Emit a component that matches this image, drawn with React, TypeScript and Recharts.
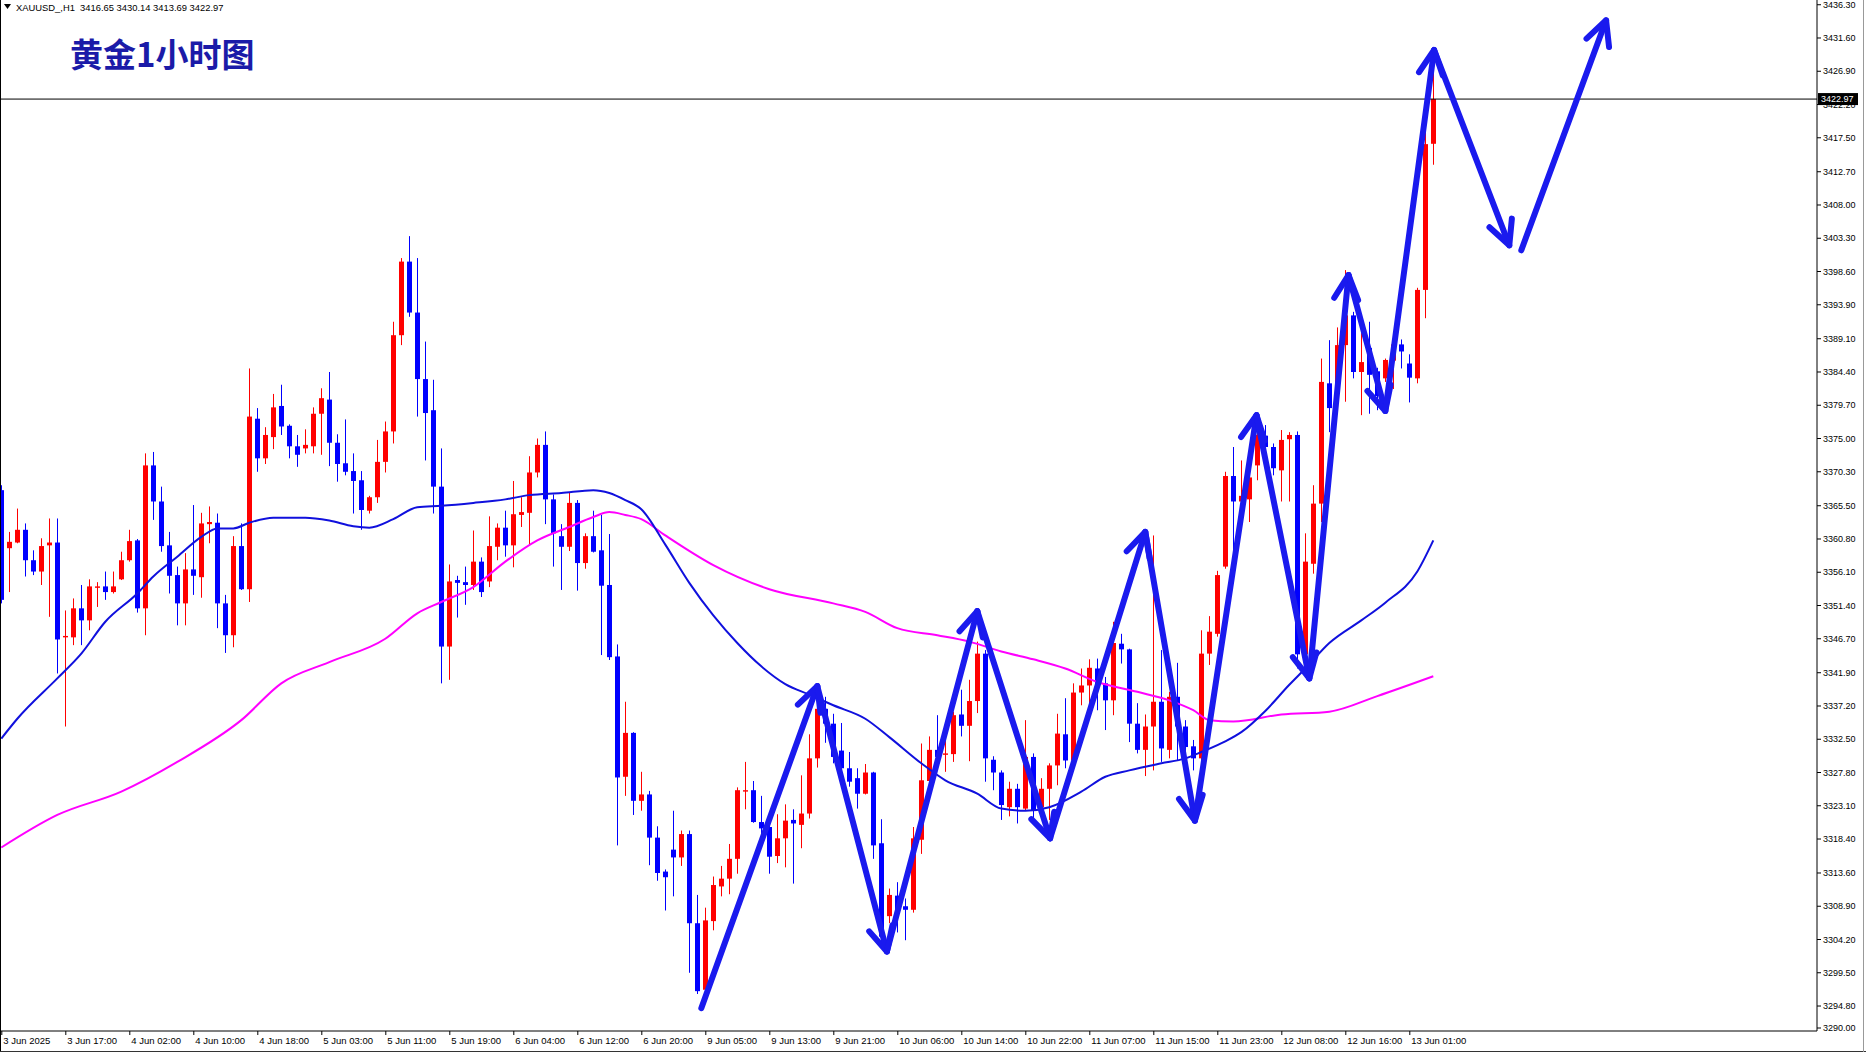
import { Bar, ComposedChart, Line, ReferenceLine, XAxis, YAxis } from "recharts";

const W = 1866;
const H = 1055;
const AXIS_W = 49;
const AXIS_H = 24;
const PLOT_BOTTOM = H - AXIS_H;

// bar index domain: 8px per hourly bar, last bars leave room on the right
const X_MIN = -0.1625;
const X_MAX = 226.9625;
const Y_MIN = 3291.27;
const Y_MAX = 3436.97;

const opens = [
  3367.7, 3359.5, 3360.3, 3362.1, 3357.8, 3356.2, 3359.9, 3360.3, 3346.9, 3346.9,
  3351.0, 3349.3, 3353.9, 3354.1, 3353.3, 3355.1, 3357.8, 3360.6, 3351.0, 3371.2,
  3366.1, 3359.9, 3355.7, 3351.7, 3356.5, 3355.4, 3362.9, 3363.1, 3351.7, 3347.2,
  3359.8, 3353.7, 3377.8, 3372.2, 3375.2, 3379.6, 3376.8, 3373.9, 3373.6, 3373.9,
  3378.5, 3380.5, 3374.4, 3371.5, 3370.4, 3369.1, 3364.8, 3366.7, 3371.7, 3376.0,
  3389.6, 3400.0, 3392.8, 3383.4, 3379.0, 3368.2, 3345.6, 3355.0, 3354.7, 3354.3,
  3357.6, 3354.8, 3359.7, 3362.4, 3359.9, 3364.2, 3364.5, 3370.2, 3374.1, 3366.4,
  3361.2, 3359.7, 3365.9, 3357.4, 3361.2, 3359.2, 3354.3, 3344.2, 3327.2, 3333.4,
  3323.8, 3324.7, 3318.6, 3313.8, 3316.9, 3315.8, 3319.1, 3306.5, 3297.1, 3306.8,
  3311.7, 3312.8, 3315.6, 3325.1, 3325.3, 3320.8, 3320.1, 3316.0, 3318.5, 3321.1,
  3320.4, 3322.0, 3329.8, 3336.8, 3334.7, 3330.9, 3328.4, 3327.0, 3324.8, 3327.8,
  3317.8, 3307.5, 3310.4, 3308.9, 3308.4, 3318.3, 3326.6, 3331.0, 3330.3, 3330.4,
  3336.0, 3334.4, 3337.9, 3344.6, 3329.6, 3327.8, 3322.9, 3325.5, 3322.7, 3330.0,
  3322.9, 3325.5, 3328.8, 3333.2, 3329.5, 3339.1, 3340.1, 3342.5, 3340.4, 3338.0,
  3346.0, 3345.2, 3334.7, 3331.0, 3334.3, 3337.8, 3331.0, 3338.5, 3334.3, 3331.5,
  3329.8, 3344.6, 3347.4, 3356.9, 3369.7, 3366.1, 3366.4, 3371.2, 3375.4, 3373.8,
  3370.5, 3374.9, 3375.5, 3344.5, 3357.3, 3365.8, 3382.8, 3382.8, 3388.2, 3392.4,
  3384.4, 3387.8, 3384.5, 3383.5, 3386.0, 3388.3, 3385.6, 3383.5, 3396.0, 3416.65,
];

const highs = [
  3368.4, 3361.8, 3365.1, 3363.0, 3359.2, 3360.9, 3363.7, 3363.7, 3350.7, 3352.4,
  3354.3, 3355.1, 3354.7, 3356.2, 3356.2, 3359.0, 3362.1, 3360.8, 3372.9, 3373.1,
  3368.2, 3361.8, 3356.9, 3358.8, 3365.6, 3364.5, 3365.4, 3364.4, 3352.9, 3361.2,
  3363.0, 3384.9, 3379.3, 3376.6, 3381.3, 3382.6, 3377.0, 3375.5, 3376.3, 3379.4,
  3382.1, 3384.4, 3375.6, 3377.7, 3372.9, 3370.4, 3366.9, 3374.8, 3377.4, 3391.5,
  3400.5, 3403.6, 3400.5, 3388.7, 3383.3, 3373.6, 3357.2, 3355.6, 3356.9, 3362.0,
  3358.2, 3364.0, 3363.0, 3364.8, 3369.0, 3366.7, 3372.5, 3375.0, 3376.0, 3367.1,
  3362.9, 3367.3, 3366.3, 3361.6, 3364.8, 3364.2, 3361.5, 3345.9, 3337.8, 3333.5,
  3327.9, 3325.2, 3320.2, 3314.1, 3322.4, 3319.6, 3319.6, 3310.5, 3308.7, 3313.1,
  3314.6, 3317.7, 3325.7, 3329.3, 3326.6, 3324.5, 3320.8, 3321.9, 3323.3, 3322.6,
  3327.4, 3333.2, 3337.6, 3338.5, 3336.1, 3334.8, 3330.7, 3328.4, 3329.0, 3327.9,
  3321.2, 3311.4, 3312.3, 3310.0, 3320.1, 3331.9, 3332.9, 3335.9, 3332.8, 3336.4,
  3339.5, 3340.9, 3346.3, 3345.1, 3330.1, 3328.1, 3326.5, 3326.2, 3335.2, 3330.5,
  3327.0, 3329.1, 3336.1, 3338.3, 3340.4, 3342.5, 3343.8, 3343.9, 3341.3, 3349.1,
  3347.4, 3345.3, 3337.6, 3336.0, 3361.3, 3345.1, 3339.2, 3343.3, 3335.2, 3332.4,
  3347.9, 3349.9, 3356.3, 3370.3, 3373.8, 3371.9, 3371.9, 3375.9, 3376.9, 3374.3,
  3376.2, 3375.9, 3376.0, 3361.6, 3368.4, 3386.3, 3388.9, 3390.7, 3398.8, 3392.9,
  3389.9, 3391.5, 3385.0, 3386.3, 3389.0, 3389.0, 3386.9, 3396.3, 3420.5, 3430.14,
];

const lows = [
  3351.7, 3353.3, 3360.2, 3355.5, 3355.7, 3354.3, 3349.8, 3341.8, 3334.3, 3345.8,
  3345.8, 3347.9, 3351.2, 3352.2, 3353.1, 3355.0, 3357.6, 3350.4, 3347.2, 3363.5,
  3359.0, 3353.1, 3348.6, 3348.6, 3352.9, 3352.5, 3360.2, 3348.2, 3344.7, 3345.5,
  3353.6, 3351.9, 3370.3, 3371.4, 3373.5, 3375.5, 3372.2, 3371.0, 3372.9, 3372.9,
  3372.7, 3371.1, 3368.9, 3369.8, 3364.4, 3362.1, 3364.4, 3365.9, 3370.2, 3374.3,
  3388.2, 3392.2, 3378.1, 3371.9, 3364.4, 3340.4, 3340.9, 3349.7, 3351.5, 3353.6,
  3352.6, 3354.0, 3357.8, 3358.3, 3356.8, 3362.5, 3359.9, 3369.5, 3362.9, 3356.9,
  3353.6, 3359.1, 3353.5, 3356.6, 3358.9, 3344.4, 3343.7, 3317.5, 3324.5, 3321.8,
  3322.4, 3314.7, 3312.5, 3308.3, 3310.3, 3314.6, 3299.5, 3296.5, 3297.0, 3305.5,
  3310.3, 3310.6, 3313.5, 3322.6, 3320.7, 3319.1, 3313.5, 3315.0, 3314.4, 3312.1,
  3317.1, 3321.3, 3328.5, 3332.0, 3329.1, 3327.0, 3325.8, 3322.7, 3324.7, 3315.6,
  3303.9, 3306.5, 3305.2, 3304.1, 3308.0, 3316.3, 3326.5, 3328.3, 3327.9, 3329.3,
  3332.9, 3329.4, 3336.2, 3326.5, 3325.3, 3321.1, 3321.6, 3320.6, 3322.5, 3321.0,
  3321.3, 3321.1, 3326.0, 3328.4, 3328.4, 3337.3, 3337.6, 3336.6, 3333.8, 3335.9,
  3343.2, 3332.1, 3330.5, 3327.3, 3328.1, 3329.3, 3329.8, 3329.5, 3330.0, 3328.1,
  3325.8, 3343.0, 3347.0, 3356.6, 3358.8, 3363.2, 3363.2, 3369.1, 3371.5, 3369.8,
  3366.1, 3366.1, 3342.5, 3341.5, 3355.9, 3363.2, 3375.9, 3380.0, 3380.2, 3383.5,
  3378.3, 3378.5, 3379.0, 3383.0, 3382.0, 3384.9, 3380.1, 3382.8, 3392.0, 3413.69,
];

const closes = [
  3352.2, 3360.4, 3362.1, 3357.8, 3356.2, 3359.8, 3360.3, 3346.6, 3347.1, 3351.0,
  3349.3, 3354.1, 3354.1, 3353.3, 3354.1, 3357.8, 3360.5, 3351.0, 3371.2, 3366.1,
  3359.8, 3355.6, 3351.7, 3356.5, 3355.6, 3363.0, 3363.2, 3351.7, 3347.2, 3359.8,
  3353.7, 3378.1, 3372.2, 3375.5, 3379.4, 3376.7, 3373.9, 3372.7, 3374.1, 3378.5,
  3380.7, 3374.4, 3371.4, 3370.3, 3369.0, 3364.9, 3366.7, 3371.7, 3376.0, 3389.6,
  3400.0, 3392.8, 3383.4, 3378.6, 3368.2, 3345.6, 3354.8, 3354.6, 3354.3, 3357.6,
  3353.3, 3359.8, 3362.4, 3359.9, 3364.3, 3364.6, 3370.2, 3374.1, 3366.4, 3361.6,
  3359.7, 3365.9, 3357.4, 3361.2, 3359.0, 3354.2, 3344.1, 3327.1, 3333.4, 3323.8,
  3324.7, 3318.6, 3313.6, 3313.0, 3315.8, 3319.1, 3306.5, 3296.9, 3306.9, 3311.9,
  3312.8, 3315.6, 3325.3, 3325.3, 3320.8, 3319.9, 3315.9, 3318.5, 3321.0, 3320.6,
  3322.0, 3329.8, 3336.8, 3334.7, 3330.0, 3328.4, 3326.5, 3324.8, 3327.8, 3317.5,
  3304.6, 3310.5, 3308.2, 3308.4, 3318.5, 3326.7, 3331.0, 3330.0, 3330.5, 3335.9,
  3334.4, 3337.9, 3344.6, 3329.8, 3327.8, 3323.2, 3325.5, 3322.9, 3330.0, 3322.5,
  3325.5, 3328.8, 3333.3, 3329.5, 3339.1, 3340.1, 3342.6, 3339.9, 3338.0, 3346.1,
  3345.2, 3334.7, 3331.0, 3334.3, 3337.8, 3331.2, 3338.5, 3334.3, 3331.4, 3329.8,
  3344.6, 3347.7, 3355.7, 3369.7, 3366.1, 3366.9, 3369.5, 3375.5, 3373.8, 3370.8,
  3374.8, 3375.5, 3344.5, 3357.6, 3365.8, 3383.0, 3379.3, 3388.2, 3392.4, 3384.4,
  3385.8, 3384.0, 3381.0, 3386.1, 3388.3, 3387.3, 3383.6, 3396.0, 3416.6, 3422.97,
];

// moving averages at sample bars
const fastMaBars = [
  0, 2, 7, 10, 13, 17, 19, 22, 25, 27, 29, 31, 34, 38, 41, 44, 46, 49, 52, 55,
  59, 63, 66, 70, 74, 76, 78, 80, 83, 86, 89, 92, 95, 98, 101, 104, 108, 111, 115, 118,
  122, 125, 128, 131, 135, 138, 141, 145, 148, 150, 153, 155, 158, 161, 163, 166, 170, 173, 177, 179,
];
const fastMaValues = [
  3332.6, 3335.4, 3341.1, 3344.6, 3349.1, 3353.1, 3355.5, 3358.3, 3361.1, 3362.3,
  3362.3, 3363.1, 3363.8, 3363.8, 3363.4, 3362.6, 3362.4, 3363.6, 3365.3, 3365.5,
  3365.9, 3366.4, 3367.0, 3367.3, 3367.7, 3367.3, 3366.3, 3365.0, 3360.0, 3354.6,
  3350.0, 3346.1, 3342.8, 3340.3, 3338.8, 3337.3, 3335.4, 3332.8, 3329.1, 3326.7,
  3324.8, 3322.7, 3322.4, 3322.9, 3325.1, 3327.2, 3328.1, 3329.1, 3329.8, 3330.7,
  3332.2, 3333.5, 3336.5, 3340.2, 3342.5, 3346.1, 3349.3, 3351.8, 3356.2, 3360.6,
];

const slowMaBars = [
  0, 7, 15, 22, 30, 35, 41, 48, 52, 55, 59, 63, 67, 71, 74, 76, 78, 80, 83, 89,
  96, 104, 108, 112, 117, 121, 125, 129, 133, 137, 142, 146, 149, 151, 154, 160, 166, 172, 179,
];
const slowMaValues = [
  3317.2, 3321.8, 3325.1, 3329.3, 3335.2, 3340.4, 3343.4, 3346.7, 3350.3, 3351.9,
  3354.0, 3357.6, 3360.6, 3362.5, 3363.9, 3364.6, 3364.2, 3363.6, 3361.3, 3357.1,
  3353.7, 3351.7, 3350.5, 3348.2, 3347.2, 3346.3, 3344.9, 3343.8, 3342.5, 3340.6,
  3339.2, 3338.0, 3336.6, 3335.2, 3335.0, 3336.0, 3336.4, 3338.6, 3341.4,
];

// hand-drawn zigzag arrows (bar index, price)
const zigBars = [87.5, 102.0, 110.7, 122.0, 131.1, 143.0, 149.2, 156.9, 163.5, 168.4, 173.0, 179.1, 188.5];
const zigPrices = [3294.5, 3340.0, 3302.5, 3350.6, 3318.5, 3361.8, 3321.0, 3378.3, 3341.1, 3398.1, 3378.9, 3429.9, 3402.3];
const lastArrowBars = [190.0, 200.6];
const lastArrowPrices = [3401.6, 3434.1];

const timeTickBars = [0, 8, 16, 24, 32, 40, 48, 56, 64, 72, 80, 88, 96, 104, 112, 120, 128, 136, 144, 152, 160, 168, 176];
const timeTickLabels = [
  "3 Jun 2025", "3 Jun 17:00", "4 Jun 02:00", "4 Jun 10:00", "4 Jun 18:00", "5 Jun 03:00",
  "5 Jun 11:00", "5 Jun 19:00", "6 Jun 04:00", "6 Jun 12:00", "6 Jun 20:00", "9 Jun 05:00",
  "9 Jun 13:00", "9 Jun 21:00", "10 Jun 06:00", "10 Jun 14:00", "10 Jun 22:00", "11 Jun 07:00",
  "11 Jun 15:00", "11 Jun 23:00", "12 Jun 08:00", "12 Jun 16:00", "13 Jun 01:00",
];

const priceTicks = [
  3436.3, 3431.6, 3426.9, 3422.2, 3417.5, 3412.7, 3408.0, 3403.3, 3398.6, 3393.9, 3389.1,
  3384.4, 3379.7, 3375.0, 3370.3, 3365.5, 3360.8, 3356.1, 3351.4, 3346.7, 3341.9, 3337.2,
  3332.5, 3327.8, 3323.1, 3318.4, 3313.6, 3308.9, 3304.2, 3299.5, 3294.8, 3290.0,
];

const UP = "#ff0000";
const DOWN = "#0000ff";
const ARROW = "#1a1aee";
const FONT = "'Liberation Sans', Arial, sans-serif";

const candles = opens.map((o, i) => ({
  i,
  o,
  h: highs[i],
  l: lows[i],
  c: closes[i],
  range: [lows[i], highs[i]],
}));

const fastMa = fastMaBars.map((i, k) => ({ i, v: fastMaValues[k] }));
const slowMa = slowMaBars.map((i, k) => ({ i, v: slowMaValues[k] }));

const zigPoints = zigBars.map((i, k) => ({ i, v: zigPrices[k] }));
const arrowSegments = zigPoints.slice(1).map((p, k) => [zigPoints[k], p]);
arrowSegments.push([
  { i: lastArrowBars[0], v: lastArrowPrices[0] },
  { i: lastArrowBars[1], v: lastArrowPrices[1] },
]);

function Candle(props: any) {
  const { x, y, width, height, payload } = props;
  const { o, h, l, c } = payload;
  const top = Math.min(y, y + height);
  const span = Math.abs(height);
  const yOf = (v: number) => (h === l ? top : top + ((h - v) / (h - l)) * span);
  const color = c >= o ? UP : DOWN;
  const px = Math.floor(x + width / 2);
  const bodyTop = yOf(Math.max(o, c));
  const bodyH = Math.max(1, yOf(Math.min(o, c)) - bodyTop);
  return (
    <g>
      <rect x={px} y={top} width={1} height={Math.max(1, span)} fill={color} />
      <rect x={px - 2} y={bodyTop} width={5} height={bodyH} fill={color} />
    </g>
  );
}

function PriceTick(props: any) {
  const { x, y, payload } = props;
  // the lowest label sits on the bottom edge like the terminal does
  const yy = Math.min(y, PLOT_BOTTOM - 3);
  return (
    <g>
      <line x1={x - 6} x2={x - 2} y1={yy} y2={yy} stroke="#000" />
      <text x={x} y={yy} dy="0.35em" fontSize={9} fontFamily={FONT} fill="#000">
        {Number(payload.value).toFixed(2)}
      </text>
    </g>
  );
}

function TimeTick(props: any) {
  const { x, y, payload } = props;
  const k = timeTickBars.indexOf(payload.value);
  return (
    <g>
      <line x1={x + 0.5} x2={x + 0.5} y1={y - 6} y2={y - 2} stroke="#000" />
      <text x={x + 2} y={y + 7} fontSize={9.5} fontFamily={FONT} fill="#000">
        {timeTickLabels[k]}
      </text>
    </g>
  );
}

function PriceTag(props: any) {
  const vb = props.viewBox || {};
  const x = vb.x + vb.width + 1;
  const y = vb.y;
  return (
    <g>
      <rect x={x} y={y - 6} width={40} height={12} fill="#000" />
      <text x={x + 3} y={y} dy="0.35em" fontSize={9} fontFamily={FONT} fill="#fff">
        {closes[closes.length - 1].toFixed(2)}
      </text>
    </g>
  );
}

export default function App() {
  return (
    <div style={{ position: "absolute", left: 0, top: 0, width: W, height: H, background: "#fff", overflow: "hidden" }}>
      <svg width={0} height={0} style={{ position: "absolute" }}>
        <defs>
          <marker
            id="arrowHead"
            markerUnits="userSpaceOnUse"
            markerWidth={44}
            markerHeight={44}
            viewBox="-32 -22 44 44"
            refX={0}
            refY={0}
            orient="auto"
            overflow="visible"
          >
            <path d="M -24 -12 L 0 0 L -24 12" fill="none" stroke={ARROW} strokeWidth={6} strokeLinecap="round" strokeLinejoin="round" />
          </marker>
        </defs>
      </svg>

      <ComposedChart width={W} height={H} data={candles} margin={{ top: 0, right: 0, bottom: 0, left: 0 }}>
        <XAxis
          dataKey="i"
          type="number"
          domain={[X_MIN, X_MAX]}
          allowDataOverflow
          ticks={timeTickBars}
          interval={0}
          height={AXIS_H}
          tickSize={4}
          tickMargin={2}
          tickLine={false}
          axisLine={{ stroke: "#000" }}
          tick={<TimeTick />}
        />
        <YAxis
          orientation="right"
          width={AXIS_W}
          type="number"
          domain={[Y_MIN, Y_MAX]}
          allowDataOverflow
          ticks={priceTicks}
          interval={0}
          tickSize={4}
          tickMargin={2}
          tickLine={false}
          axisLine={{ stroke: "#000" }}
          tick={<PriceTick />}
        />
        <Bar dataKey="range" barSize={6} shape={<Candle />} isAnimationActive={false} />
        <Line data={slowMa} dataKey="v" type="monotone" stroke="#ff00ff" strokeWidth={2} dot={false} isAnimationActive={false} />
        <Line data={fastMa} dataKey="v" type="monotone" stroke="#1010dd" strokeWidth={2} dot={false} isAnimationActive={false} />
        <ReferenceLine y={closes[closes.length - 1]} stroke="#000" strokeWidth={1} ifOverflow="visible" label={(p: any) => <PriceTag {...p} />} />
        {arrowSegments.map((seg, k) => (
          <Line
            key={`arrow-${k}`}
            data={seg}
            dataKey="v"
            type="linear"
            stroke={ARROW}
            strokeWidth={6}
            strokeLinecap="round"
            markerEnd="url(#arrowHead)"
            dot={false}
            activeDot={false}
            isAnimationActive={false}
          />
        ))}
      </ComposedChart>

      <div style={{ position: "absolute", left: 0, top: 0, width: 1, height: 1052, background: "#000" }} />
      <div style={{ position: "absolute", left: 0, top: 1051, width: W, height: 1, background: "#333" }} />
      <div style={{ position: "absolute", left: 1863, top: 0, width: 1, height: 1052, background: "#999" }} />

      <div style={{ position: "absolute", left: 4, top: 1, height: 12, display: "flex", alignItems: "center", fontFamily: FONT, fontSize: 9.4, color: "#000", whiteSpace: "pre" }}>
        <svg width={8} height={6} style={{ marginRight: 4 }}>
          <polygon points="0,0 7,0 3.5,5" fill="#000" />
        </svg>
        {"XAUUSD_,H1  3416.65 3430.14 3413.69 3422.97"}
      </div>
      <div
        style={{
          position: "absolute",
          left: 70,
          top: 35,
          fontFamily: "'Noto Sans CJK SC', sans-serif",
          fontWeight: 700,
          fontSize: 33,
          lineHeight: "36px",
          color: "#1b1ba8",
          whiteSpace: "nowrap",
        }}
      >
        黄金1小时图
      </div>
    </div>
  );
}
